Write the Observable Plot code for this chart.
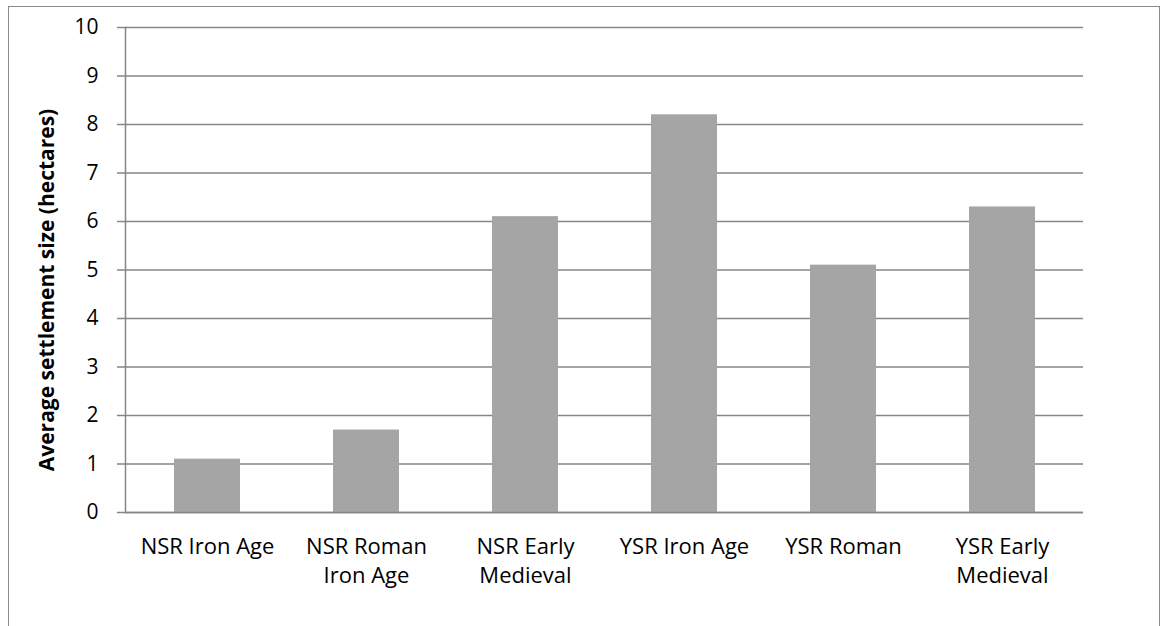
<!DOCTYPE html>
<html>
<head>
<meta charset="utf-8">
<script src="https://cdn.jsdelivr.net/npm/d3@7"></script>
<script src="https://cdn.jsdelivr.net/npm/@observablehq/plot@0.6"></script>
<style>
  html, body { margin: 0; padding: 0; background: #fff; }
  #wrap { position: relative; width: 1161px; height: 626px; overflow: hidden; }
  #border { position: absolute; left: 8px; top: 6px; width: 1152px; height: 700px; border: 1.5px solid #8a8a8a; box-sizing: border-box; pointer-events: none; }
  #chart svg { display: block; }
</style>
</head>
<body>
<div id="wrap">
  <div id="chart"></div>
  <div id="border"></div>
</div>
<script>
const categories = ["NSR Iron Age", "NSR Roman\nIron Age", "NSR Early\nMedieval", "YSR Iron Age", "YSR Roman", "YSR Early\nMedieval"];
const values = [1.1, 1.7, 6.1, 8.2, 5.1, 6.3];
const yTicks = [0, 1, 2, 3, 4, 5, 6, 7, 8, 9, 10];
const yLabel = "Average settlement size (hectares)";

const data = categories.map((c, i) => ({category: c, value: values[i]}));
const font = "'Open Sans', Lato, sans-serif";

const chart = Plot.plot({
  width: 1161,
  height: 626,
  marginLeft: 125,
  marginRight: 78,
  marginTop: 27,
  marginBottom: 114,
  style: {fontFamily: font, fontSize: "20px", color: "#000", background: "transparent"},
  x: {domain: categories, paddingInner: 0.587, paddingOuter: 0.2935, label: null},
  y: {domain: [0, 10], label: null},
  marks: [
    Plot.gridY(yTicks, {stroke: "#868686", strokeOpacity: 1, strokeWidth: 1.5}),
    Plot.barY(data, {x: "category", y: "value", fill: "#a5a5a5"}),
    Plot.ruleY([0], {stroke: "#868686", strokeWidth: 1.5}),
    Plot.frame({anchor: "left", stroke: "#868686", strokeWidth: 1.5}),
    Plot.axisY(yTicks, {tickSize: 8, tickPadding: 19, stroke: "#868686", strokeWidth: 1.5, fontSize: 21, fill: "#000", label: null}),
    Plot.axisX({tickSize: 0, tickPadding: 20, fontSize: 22, lineHeight: 1.35, fill: "#000", label: null}),
    Plot.text([yLabel], {frameAnchor: "left", textAnchor: "middle", dx: -78, dy: 20, rotate: -90, fontWeight: "bold", fontSize: 21, fill: "#000", text: d => d})
  ]
});
document.getElementById("chart").appendChild(chart);
</script>
</body>
</html>
